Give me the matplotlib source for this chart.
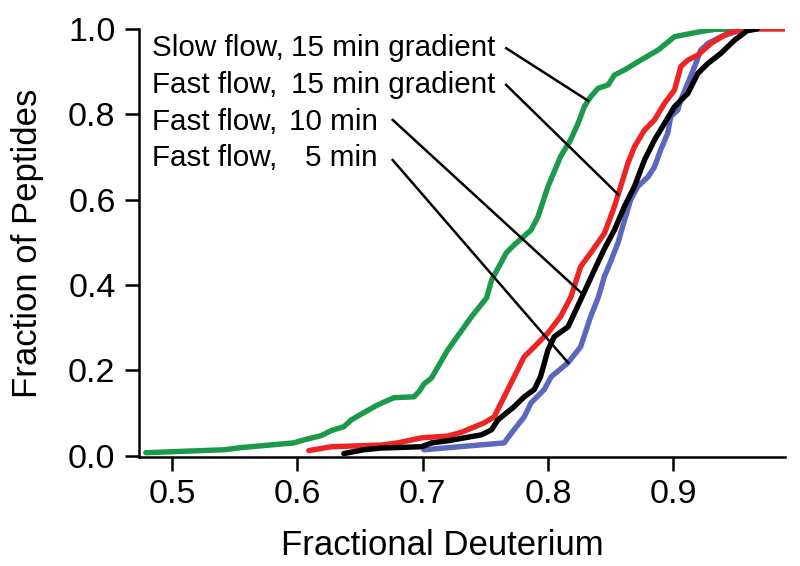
import numpy as np
import matplotlib
matplotlib.use("Agg")
import matplotlib.pyplot as plt

plt.rcParams['font.family'] = ['Liberation Sans', 'DejaVu Sans']

# ---- data ----
green_x = [0.479, 0.5415, 0.555, 0.597, 0.605, 0.619, 0.627, 0.637, 0.643, 0.653, 0.664, 0.677,
           0.693, 0.697, 0.701, 0.707, 0.720, 0.739, 0.751, 0.755, 0.763, 0.7666, 0.773, 0.7865,
           0.792, 0.800, 0.810, 0.818, 0.824, 0.829, 0.834, 0.840, 0.848, 0.853, 0.861, 0.874,
           0.888, 0.901, 0.922, 0.933, 0.954]
green_y = [0.007, 0.014, 0.019, 0.030, 0.037, 0.047, 0.059, 0.068, 0.084, 0.101, 0.119, 0.136,
           0.138, 0.150, 0.168, 0.182, 0.248, 0.326, 0.370, 0.412, 0.455, 0.475, 0.494, 0.529,
           0.560, 0.631, 0.701, 0.740, 0.779, 0.818, 0.841, 0.861, 0.869, 0.892, 0.904, 0.927,
           0.951, 0.982, 0.994, 0.999, 1.0]

red_x = [0.609, 0.627, 0.667, 0.680, 0.699, 0.720, 0.731, 0.749, 0.757, 0.765, 0.773, 0.781,
         0.789, 0.800, 0.810, 0.8184, 0.826, 0.834, 0.845, 0.853, 0.858, 0.8637, 0.869, 0.877,
         0.885, 0.893, 0.901, 0.906, 0.9116, 0.9196, 0.930, 0.9435, 0.959, 0.990]
red_y = [0.012, 0.021, 0.025, 0.030, 0.042, 0.046, 0.055, 0.077, 0.091, 0.138, 0.185, 0.232,
         0.255, 0.288, 0.326, 0.373, 0.443, 0.475, 0.521, 0.584, 0.631, 0.685, 0.724, 0.763,
         0.787, 0.826, 0.857, 0.912, 0.927, 0.939, 0.966, 0.990, 1.0, 1.0]

black_x = [0.637, 0.653, 0.667, 0.699, 0.707, 0.720, 0.747, 0.755, 0.760, 0.773, 0.781, 0.789,
           0.794, 0.800, 0.805, 0.816, 0.826, 0.837, 0.845, 0.853, 0.861, 0.869, 0.877, 0.885,
           0.893, 0.901, 0.9116, 0.9196, 0.9275, 0.938, 0.949, 0.959, 0.967]
black_y = [0.005, 0.014, 0.018, 0.021, 0.030, 0.035, 0.049, 0.061, 0.084, 0.115, 0.138, 0.155,
           0.185, 0.248, 0.279, 0.302, 0.365, 0.435, 0.485, 0.529, 0.584, 0.631, 0.693, 0.740,
           0.779, 0.818, 0.849, 0.896, 0.919, 0.943, 0.974, 0.996, 1.0]

blue_x = [0.701, 0.765, 0.771, 0.781, 0.7865, 0.797, 0.8025, 0.816, 0.826, 0.834, 0.840, 0.845,
          0.850, 0.856, 0.858, 0.866, 0.8717, 0.880, 0.885, 0.890, 0.8956, 0.898, 0.9036, 0.906,
          0.9116, 0.917, 0.922, 0.9275, 0.938, 0.954, 0.96]
blue_y = [0.014, 0.030, 0.054, 0.091, 0.124, 0.155, 0.185, 0.218, 0.255, 0.326, 0.370, 0.420,
          0.455, 0.500, 0.521, 0.600, 0.631, 0.654, 0.677, 0.717, 0.756, 0.795, 0.810, 0.834,
          0.873, 0.912, 0.951, 0.966, 0.982, 0.998, 1.0]

labels_left = ["Slow flow,", "Fast flow,", "Fast flow,", "Fast flow,"]
labels_right = ["15 min gradient", "15 min gradient", "10 min", "5 min"]
# x positions on each curve where the leader lines meet it
leader_targets_x = [0.832, 0.856, 0.828, 0.816]

x_ticks = [0.5, 0.6, 0.7, 0.8, 0.9]
y_ticks = [0.0, 0.2, 0.4, 0.6, 0.8, 1.0]

GREEN = '#1b9a4a'
RED = '#ee2424'
BLUE = '#5a68bd'
BLACK = '#000000'

fig = plt.figure(figsize=(8, 5.66), dpi=100)
ax = fig.add_axes([0.174, 0.1926, 0.807, 0.7562])

lw = 3.9
ax.plot(green_x, green_y, color=GREEN, lw=lw, solid_capstyle='round', zorder=2)
ax.plot(blue_x, blue_y, color=BLUE, lw=lw, solid_capstyle='round', zorder=3)
ax.plot(red_x, red_y, color=RED, lw=lw, solid_capstyle='round', zorder=4)
ax.plot(black_x, black_y, color=BLACK, lw=lw, solid_capstyle='round', zorder=5)

ax.set_xlim(0.4737, 0.989)
ax.set_ylim(-0.003, 1.0)
ax.set_xticks(x_ticks)
ax.set_xticklabels([f"{v:.1f}" for v in x_ticks])
ax.set_yticks(y_ticks)
ax.set_yticklabels([f"{v:.1f}" for v in y_ticks])

for s in ['top', 'right']:
    ax.spines[s].set_visible(False)
for s in ['left', 'bottom']:
    ax.spines[s].set_linewidth(1.8)
ax.tick_params(axis='both', direction='out', length=10, width=1.8, labelsize=24.5)
ax.tick_params(axis='x', pad=6)
ax.tick_params(axis='y', pad=7)

ax.set_xlabel("Fractional Deuterium", fontsize=25)
ax.set_ylabel("Fraction of Peptides", fontsize=25)
ax.xaxis.set_label_coords(0.47, -0.168)
ax.yaxis.set_label_coords(-0.147, 0.50)

# annotation texts
text_y = [0.955, 0.869, 0.782, 0.698]
fs = 21.3
for i, (l, r) in enumerate(zip(labels_left, labels_right)):
    ax.text(0.484, text_y[i], l, fontsize=fs, va='center', ha='left', zorder=6)
    if i < 2:
        ax.text(0.595, text_y[i], r, fontsize=fs, va='center', ha='left', zorder=6)
    else:
        ax.text(0.664, text_y[i], r, fontsize=fs, va='center', ha='right', zorder=6)

# leader lines
series = [(green_x, green_y), (red_x, red_y), (black_x, black_y), (blue_x, blue_y)]
starts = [(0.7666, 0.955), (0.7666, 0.869), (0.676, 0.787), (0.676, 0.693)]
for (sx, sy), (cx, cy), tx in zip(starts, series, leader_targets_x):
    ty = float(np.interp(tx, cx, cy))
    ax.plot([sx, tx], [sy, ty], color='black', lw=1.8, zorder=7)

fig.savefig("out.png", dpi=100)
